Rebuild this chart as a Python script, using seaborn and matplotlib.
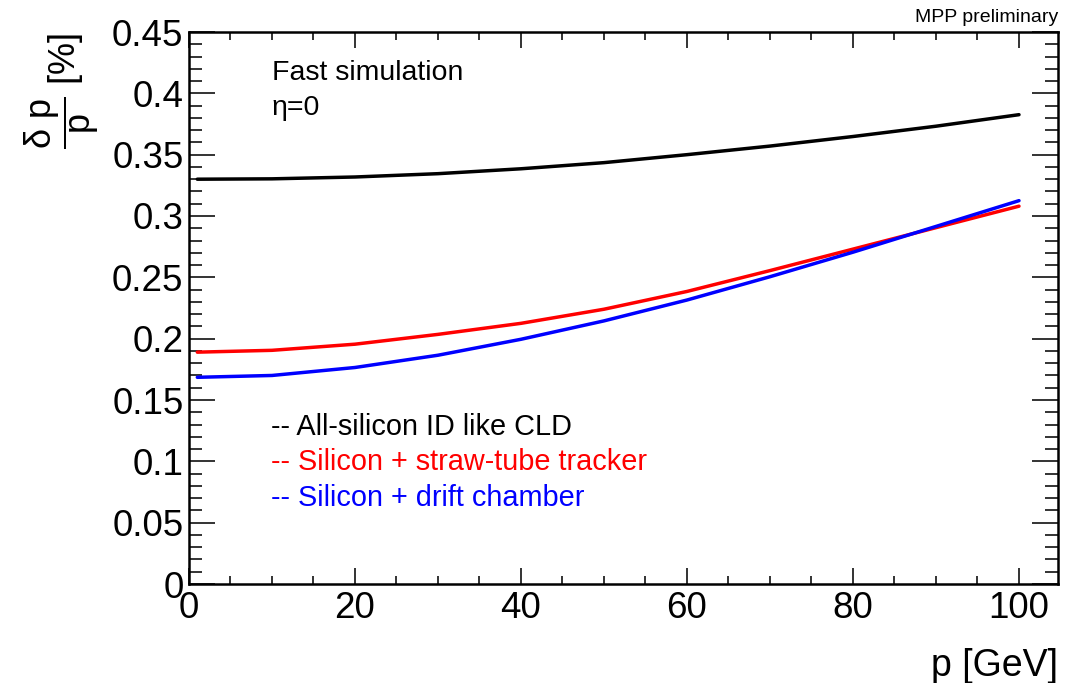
import numpy as np
import pandas as pd
import seaborn as sns
import matplotlib
matplotlib.use("Agg")
import matplotlib.pyplot as plt
from matplotlib.ticker import MultipleLocator, FuncFormatter

# Momentum points [GeV]
p_gev = [1, 10, 20, 30, 40, 50, 60, 70, 80, 90, 100]

# Relative momentum resolution dp/p [%] for each tracker layout
res_all_silicon = [0.330, 0.3303, 0.3318, 0.3345, 0.3385, 0.3435, 0.3500, 0.3570, 0.3648, 0.3732, 0.3826]
res_straw_tube = [0.189, 0.1905, 0.1955, 0.2035, 0.2125, 0.2240, 0.2385, 0.2555, 0.2730, 0.2905, 0.3080]
res_drift_chamber = [0.1685, 0.1700, 0.1765, 0.1865, 0.1995, 0.2145, 0.2315, 0.2505, 0.2705, 0.2915, 0.3125]

setups = ["All-silicon ID like CLD", "Silicon + straw-tube tracker", "Silicon + drift chamber"]
colors = ["#000000", "#ff0000", "#0000ff"]

df = pd.concat([
    pd.DataFrame({"p": p_gev, "res": r, "setup": s})
    for s, r in zip(setups, [res_all_silicon, res_straw_tube, res_drift_chamber])
])

sns.set_theme(style="ticks")
plt.rcParams["font.family"] = ["Liberation Sans", "DejaVu Sans"]
plt.rcParams["mathtext.fontset"] = "custom"
plt.rcParams["mathtext.rm"] = "Liberation Sans"
plt.rcParams["mathtext.it"] = "Liberation Sans"
plt.rcParams["mathtext.bf"] = "Liberation Sans:bold"
for key in ["text.color", "axes.labelcolor", "xtick.labelcolor", "ytick.labelcolor"]:
    plt.rcParams[key] = "black"

fig = plt.figure(figsize=(10.84, 6.83), dpi=100)
ax = fig.add_axes([189 / 1084, 99 / 683, 869 / 1084, 552 / 683])

sns.lineplot(data=df, x="p", y="res", hue="setup", hue_order=setups,
             palette=colors, linewidth=2.5, legend=False, ax=ax)

ax.set_xlim(0, 104.7)
ax.set_ylim(0, 0.45)
ax.set_xlabel("")
ax.set_ylabel("")

for sp in ax.spines.values():
    sp.set_linewidth(1.8)
    sp.set_color("black")

ax.xaxis.set_major_locator(MultipleLocator(20))
ax.xaxis.set_minor_locator(MultipleLocator(5))
ax.yaxis.set_major_locator(MultipleLocator(0.05))
ax.yaxis.set_minor_locator(MultipleLocator(0.01))
ax.yaxis.set_major_formatter(FuncFormatter(lambda v, _: "%g" % round(v, 3)))
ax.xaxis.set_major_formatter(FuncFormatter(lambda v, _: "%g" % v))

ax.tick_params(axis="both", which="both", direction="in", top=True, right=True,
               color="#333333", width=1.4, labelsize=26.5, labelcolor="black")
ax.tick_params(axis="x", which="major", length=11.5, pad=5)
ax.tick_params(axis="x", which="minor", length=5.8)
ax.tick_params(axis="y", which="major", length=18.5, pad=4)
ax.tick_params(axis="y", which="minor", length=9.3)

# Axis titles
ax.text(1.0, -0.148, "p [GeV]", transform=ax.transAxes, ha="right", va="center", fontsize=27)
fig.text(0.057, 0.953, r"$\dfrac{\delta\ p}{p}$ [%]", rotation=90, ha="center", va="top", fontsize=26)

# Annotations
ax.text(0.0955, 0.926, "Fast simulation", transform=ax.transAxes, ha="left", va="center", fontsize=20.5)
ax.text(0.0955, 0.862, "\u03b7=0", transform=ax.transAxes, ha="left", va="center", fontsize=20.5)

label_y = [0.2844, 0.221, 0.1558]
for s, c, y in zip(setups, colors, label_y):
    ax.text(0.0944, y, "-- " + s, transform=ax.transAxes, ha="left", va="center",
            fontsize=20.8, color=c)

fig.text(1058 / 1084, 1 - 17 / 683, "MPP preliminary", ha="right", va="center", fontsize=14)

fig.savefig("out.png", dpi=100, facecolor="white")
